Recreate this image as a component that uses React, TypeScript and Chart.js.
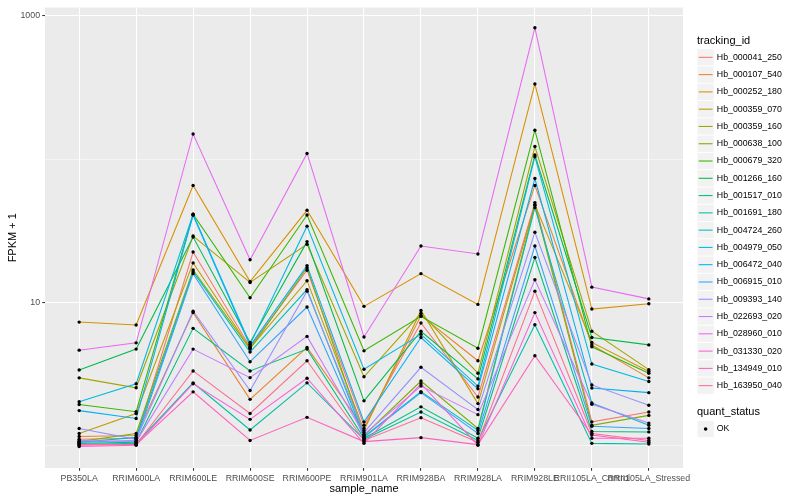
import React, { useEffect, useRef } from "react";
import { Chart, registerables } from "chart.js";

Chart.register(...registerables);

const FONT = "'Liberation Sans', Arial, Helvetica, sans-serif";

const categories = [
  "PB350LA",
  "RRIM600LA",
  "RRIM600LE",
  "RRIM600SE",
  "RRIM600PE",
  "RRIM901LA",
  "RRIM928BA",
  "RRIM928LA",
  "RRIM928LE",
  "RRII105LA_Control",
  "RRII105LA_Stressed",
];

const trackingIds = [
  "Hb_000041_250",
  "Hb_000107_540",
  "Hb_000252_180",
  "Hb_000359_070",
  "Hb_000359_160",
  "Hb_000638_100",
  "Hb_000679_320",
  "Hb_001266_160",
  "Hb_001517_010",
  "Hb_001691_180",
  "Hb_004724_260",
  "Hb_004979_050",
  "Hb_006472_040",
  "Hb_006915_010",
  "Hb_009393_140",
  "Hb_022693_020",
  "Hb_028960_010",
  "Hb_031330_020",
  "Hb_134949_010",
  "Hb_163950_040",
];

const seriesColors = [
  "#F8766D", "#EA8331", "#D89000", "#C09B00", "#A3A500",
  "#7CAE00", "#39B600", "#00BB4E", "#00BF7D", "#00C1A3",
  "#00BFC4", "#00BAE0", "#00B0F6", "#35A2FF", "#9590FF",
  "#C77CFF", "#E76BF3", "#FA62DB", "#FF62BC", "#FF6C91",
];

// FPKM + 1 values, one per sample_name
const hb_000041_250 = [1.11, 1.13, 22.5, 4.88, 16.8, 1.39, 7.2, 2.19, 49.8, 1.47, 1.72];
const hb_000107_540 = [1.16, 1.18, 8.5, 2.11, 4.86, 1.32, 8.1, 3.92, 65.6, 5.06, 2.98];
const hb_000252_180 = [7.3, 6.97, 65.6, 14.0, 44.0, 9.4, 15.9, 9.7, 335, 9.0, 9.8];
const hb_000359_070 = [1.22, 1.68, 18.9, 4.8, 14.2, 1.28, 8.8, 1.97, 48.2, 5.26, 3.3];
const hb_000359_160 = [2.98, 2.54, 29.1, 13.8, 25.5, 3.03, 8.4, 3.21, 122.6, 6.3, 3.4];
const hb_000638_100 = [1.07, 1.22, 16.9, 4.73, 17.5, 1.18, 2.83, 1.32, 47.7, 1.39, 1.63];
const hb_000679_320 = [1.94, 1.73, 41.3, 10.8, 40.8, 4.6, 8.0, 4.8, 159.3, 4.91, 3.21];
const hb_001266_160 = [3.38, 4.73, 28.6, 5.26, 26.6, 2.06, 6.3, 2.93, 106.9, 5.7, 5.06];
const hb_001517_010 = [1.04, 1.06, 6.6, 3.33, 4.73, 1.13, 1.87, 1.13, 20.6, 1.26, 1.25];
const hb_001691_180 = [1.02, 1.04, 2.75, 1.29, 2.75, 1.11, 1.72, 1.09, 7.0, 1.04, 1.03];
const hb_004724_260 = [1.06, 1.145, 16.4, 4.51, 12.3, 1.16, 2.39, 1.28, 45.9, 1.99, 1.39];
const hb_004979_050 = [2.03, 2.71, 41.3, 5.12, 34.1, 3.42, 6.0, 2.61, 104.1, 3.72, 2.81];
const hb_006472_040 = [1.76, 1.55, 40.6, 4.98, 18.1, 1.47, 5.7, 2.5, 73.3, 2.53, 2.35];
const hb_006915_010 = [1.06, 1.09, 15.9, 3.86, 9.3, 1.145, 2.35, 1.22, 24.8, 1.37, 1.32];
const hb_009393_140 = [1.32, 1.11, 8.7, 2.43, 12.0, 1.24, 3.53, 1.79, 30.9, 2.66, 1.92];
const hb_022693_020 = [1.09, 1.07, 4.73, 2.99, 5.8, 1.2, 2.61, 1.65, 14.4, 1.95, 1.44];
const hb_028960_010 = [4.65, 5.23, 150, 19.9, 109.7, 5.75, 24.8, 21.8, 826, 12.8, 10.6];
const hb_031330_020 = [0.99, 1.01, 2.71, 1.53, 2.96, 1.04, 2.71, 1.01, 8.5, 1.13, 1.13];
const hb_134949_010 = [1.01, 1.02, 2.38, 1.09, 1.58, 1.07, 1.14, 1.02, 4.25, 1.19, 1.06];
const hb_163950_040 = [1.02, 1.02, 3.33, 1.68, 3.92, 1.09, 1.57, 1.06, 12.0, 1.22, 1.09];

const seriesValues = [
  hb_000041_250, hb_000107_540, hb_000252_180, hb_000359_070, hb_000359_160,
  hb_000638_100, hb_000679_320, hb_001266_160, hb_001517_010, hb_001691_180,
  hb_004724_260, hb_004979_050, hb_006472_040, hb_006915_010, hb_009393_140,
  hb_022693_020, hb_028960_010, hb_031330_020, hb_134949_010, hb_163950_040,
];

const yTickValues = [1, 10, 100, 1000];
const yTickLabels = ["", "10", "", "1000"];
const yMajorTicks = [10, 1000];

const quantStatus = ["OK"];

export default function App() {
  const canvasRef = useRef<HTMLCanvasElement | null>(null);

  useEffect(() => {
    const canvas = canvasRef.current;
    if (!canvas) return;

    const lineDatasets = seriesValues.map((vals, s) => ({
      type: "line" as const,
      label: trackingIds[s],
      data: vals.map((v, i) => ({ x: i, y: v })),
      borderColor: seriesColors[s],
      backgroundColor: seriesColors[s],
      borderWidth: 1.07,
      pointRadius: 0,
      pointHoverRadius: 0,
      tension: 0,
      fill: false,
      order: seriesValues.length - s,
    }));

    const pointDataset = {
      type: "line" as const,
      label: quantStatus[0],
      data: seriesValues.flatMap((vals) => vals.map((v, i) => ({ x: i, y: v }))),
      showLine: false,
      pointRadius: 1.7,
      pointHoverRadius: 1.7,
      pointBackgroundColor: "#000000",
      pointBorderWidth: 0,
      borderColor: "#000000",
      order: 0,
    };

    const decorPlugin = {
      id: "decor",
      beforeDraw(chart: any) {
        const { ctx, chartArea } = chart;
        ctx.save();
        ctx.fillStyle = "#EBEBEB";
        ctx.fillRect(chartArea.left, chartArea.top, chartArea.right - chartArea.left, chartArea.bottom - chartArea.top);
        ctx.restore();
      },
      afterDraw(chart: any) {
        const { ctx, chartArea } = chart;
        ctx.save();
        ctx.fillStyle = "#000000";
        ctx.textBaseline = "middle";
        // axis titles
        ctx.font = `11px ${FONT}`;
        ctx.textAlign = "center";
        ctx.fillText("sample_name", (chartArea.left + chartArea.right) / 2, 488.5);
        ctx.save();
        ctx.translate(13, (chartArea.top + chartArea.bottom) / 2);
        ctx.rotate(-Math.PI / 2);
        ctx.fillText("FPKM + 1", 0, 0);
        ctx.restore();

        // legend: tracking_id
        const lx = 697;
        const key = 17.28;
        ctx.textAlign = "left";
        ctx.font = `11px ${FONT}`;
        ctx.fillText("tracking_id", lx, 40.5);
        ctx.font = `8.8px ${FONT}`;
        trackingIds.forEach((id, i) => {
          const top = 48.7 + key * i;
          ctx.fillStyle = "#F2F2F2";
          ctx.fillRect(lx + 0.5, top + 0.5, key - 1, key - 1);
          ctx.strokeStyle = seriesColors[i];
          ctx.lineWidth = 1.07;
          ctx.beginPath();
          ctx.moveTo(lx + 1.7, top + key / 2);
          ctx.lineTo(lx + key - 1.7, top + key / 2);
          ctx.stroke();
          ctx.fillStyle = "#000000";
          ctx.fillText(id, lx + key + 2.5, top + key / 2);
        });

        // legend: quant_status
        ctx.font = `11px ${FONT}`;
        ctx.fillText("quant_status", lx, 412);
        const qtop = 429 - key / 2;
        ctx.fillStyle = "#F2F2F2";
        ctx.fillRect(lx + 0.5, qtop + 0.5, key - 1, key - 1);
        ctx.fillStyle = "#000000";
        ctx.beginPath();
        ctx.arc(lx + key / 2, 429, 1.8, 0, Math.PI * 2);
        ctx.fill();
        ctx.font = `8.8px ${FONT}`;
        ctx.fillText(quantStatus[0], lx + key + 2.5, 429);
        ctx.restore();
      },
    };

    const chart = new Chart(canvas, {
      type: "line",
      data: { datasets: [...lineDatasets, pointDataset] as any },
      options: {
        animation: false,
        responsive: false,
        maintainAspectRatio: false,
        layout: { padding: { left: 0, top: 5.5, right: 117, bottom: 0 } },
        plugins: {
          legend: { display: false },
          tooltip: { enabled: false },
          title: { display: false },
        },
        scales: {
          x: {
            type: "linear",
            min: -0.6,
            max: 10.6,
            afterBuildTicks: (scale: any) => {
              scale.ticks = categories.map((_, i) => ({ value: i }));
            },
            afterFit: (scale: any) => {
              scale.height = 32;
            },
            ticks: {
              autoSkip: false,
              maxRotation: 0,
              minRotation: 0,
              padding: 2.2,
              color: "#4D4D4D",
              font: { family: FONT, size: 8.8 },
              callback: (v: any) => categories[Math.round(Number(v))] ?? "",
            },
            grid: {
              color: "#FFFFFF",
              lineWidth: 1.07,
              tickColor: "#333333",
              tickLength: 2.75,
              tickWidth: 1.07,
            },
            border: { display: false },
          },
          y: {
            type: "logarithmic",
            min: 0.721,
            max: 1145,
            afterBuildTicks: (scale: any) => {
              scale.ticks = yTickValues.map((v) => ({ value: v }));
            },
            afterFit: (scale: any) => {
              scale.width = 45;
            },
            ticks: {
              padding: 2.2,
              color: "#4D4D4D",
              font: { family: FONT, size: 8.8 },
              callback: (v: any) => {
                const idx = yTickValues.indexOf(Number(v));
                return idx >= 0 ? yTickLabels[idx] : "";
              },
            },
            grid: {
              color: "#FFFFFF",
              lineWidth: (c: any) => (c.tick && yMajorTicks.includes(c.tick.value) ? 1.07 : 0.53),
              tickColor: (c: any) => (c.tick && yMajorTicks.includes(c.tick.value) ? "#333333" : "rgba(0,0,0,0)"),
              tickLength: 2.75,
              tickWidth: 1.07,
            },
            border: { display: false },
          },
        },
      },
      plugins: [decorPlugin],
    } as any);

    return () => {
      chart.destroy();
    };
  }, []);

  return (
    <div style={{ position: "fixed", left: 0, top: 0, width: 800, height: 500, background: "#FFFFFF" }}>
      <canvas ref={canvasRef} width={800} height={500} style={{ width: 800, height: 500, display: "block" }} />
    </div>
  );
}
